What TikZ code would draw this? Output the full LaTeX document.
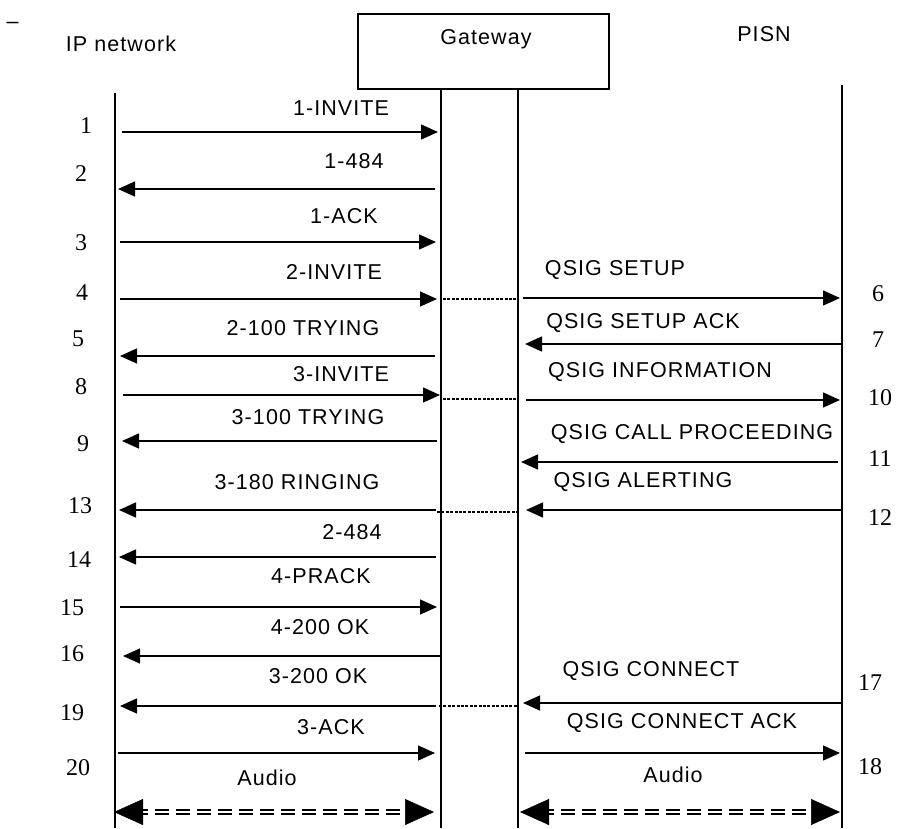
\documentclass[tikz,border=0pt]{standalone}
\usepackage{fontspec}
\setmainfont{Liberation Serif}
\newfontfamily\labfont[LetterSpace=5]{Liberation Sans}
\usetikzlibrary{arrows.meta}
\tikzset{
  lab/.style={font=\labfont\fontsize{21.5}{25}\selectfont, text height=15.5pt, text depth=0pt, inner sep=0pt},
  num/.style={font=\fontsize{24}{28}\selectfont, text height=16pt, text depth=0pt, inner sep=0pt},
  life/.style={line width=1.5pt},
  msg/.style={line width=1.4pt, -{Triangle[length=17pt,width=15pt]}},
  dotline/.style={line width=1.7pt, dash pattern=on 3pt off 1.4pt},
  audiotip/.style={white, line width=0.5pt, {Triangle[length=29pt,width=26pt,black]}-{Triangle[length=29pt,width=26pt,black]}},
  audiodash/.style={black, line width=2.3pt, double=white, double distance=2.2pt, dash pattern=on 14pt off 7pt, shorten <=20pt, shorten >=20pt}
}
\begin{document}
\begin{tikzpicture}[x=1pt,y=-1pt]
\useasboundingbox (0,0) rectangle (897,828);
% header
\node[lab, anchor=base] (dash) at (12.5,28) {–};
\node[lab] (ipn) at (121,44) {IP network};
\node[draw, line width=1.5pt, minimum width=251pt, minimum height=75pt, inner sep=0pt] (gw) at (483.5,51.5) {};
\node[lab] (gwl) at (486,37) {Gateway};
\node[lab] (pisn) at (764,34) {PISN};
% lifelines
\coordinate (ipT) at (115,93);  \coordinate (ipB) at (115,828);
\coordinate (gLT) at (441,89);  \coordinate (gLB) at (441,828);
\coordinate (gRT) at (518,89);  \coordinate (gRB) at (518,828);
\coordinate (psT) at (842,85);  \coordinate (psB) at (842,828);
\draw[life] (ipT) -- (ipB);
\draw[life] (gLT) -- (gLB);
\draw[life] (gRT) -- (gRB);
\draw[life] (psT) -- (psB);
% message end points
\coordinate (m1a) at (122,132); \coordinate (m1b) at (438,132);
\coordinate (m2a) at (435,189); \coordinate (m2b) at (118,189);
\coordinate (m3a) at (120,242); \coordinate (m3b) at (436,242);
\coordinate (m4a) at (120,299); \coordinate (m4b) at (437,299);
\coordinate (d4a) at (443,299); \coordinate (d4b) at (518,299);
\coordinate (m5a) at (435,356); \coordinate (m5b) at (120,356);
\coordinate (m6a) at (523,298); \coordinate (m6b) at (840,298);
\coordinate (m7a) at (842,344); \coordinate (m7b) at (525,344);
\coordinate (m8a) at (123,395); \coordinate (m8b) at (440,395);
\coordinate (d8a) at (443,399); \coordinate (d8b) at (518,399);
\coordinate (m10a) at (526,400); \coordinate (m10b) at (840,400);
\coordinate (m9a) at (437,441); \coordinate (m9b) at (122,441);
\coordinate (m11a) at (838,462); \coordinate (m11b) at (521,462);
\coordinate (m12a) at (842,510); \coordinate (m12b) at (526,510);
\coordinate (m13a) at (436,510); \coordinate (m13b) at (119,510);
\coordinate (d13a) at (437,512); \coordinate (d13b) at (518,512);
\coordinate (m14a) at (436,557); \coordinate (m14b) at (119,557);
\coordinate (m15a) at (120,607); \coordinate (m15b) at (437,607);
\coordinate (m16a) at (441,656); \coordinate (m16b) at (123,656);
\coordinate (m19a) at (436,706); \coordinate (m19b) at (120,706);
\coordinate (d19a) at (439,706); \coordinate (d19b) at (518,706);
\coordinate (m17a) at (842,703); \coordinate (m17b) at (523,703);
\coordinate (m20a) at (118,753); \coordinate (m20b) at (435,753);
\coordinate (m18a) at (525,753); \coordinate (m18b) at (840,753);
\coordinate (aLa) at (114,812); \coordinate (aLb) at (434,812);
\coordinate (aRa) at (520,812); \coordinate (aRb) at (840,812);
% messages
\foreach \m in {1,2,3,4,5,6,7,8,9,10,11,12,13,14,15,16,17,18,19,20}
  \draw[msg] (m\m a) -- (m\m b);
\foreach \d in {4,8,13,19}
  \draw[dotline] (d\d a) -- (d\d b);
% audio
\draw[audiodash] (aLa) -- (aLb);
\draw[audiotip] (aLa) -- (aLb);
\draw[audiodash] (aRa) -- (aRb);
\draw[audiotip] (aRa) -- (aRb);
% left labels
\node[lab] (l1) at (341,108) {1-INVITE};
\node[lab] (l2) at (354,161) {1-484};
\node[lab] (l3) at (344,216) {1-ACK};
\node[lab] (l4) at (334,272) {2-INVITE};
\node[lab] (l5) at (303,328) {2-100 TRYING};
\node[lab] (l8) at (341,374) {3-INVITE};
\node[lab] (l9) at (308,417) {3-100 TRYING};
\node[lab] (l13) at (297,482) {3-180 RINGING};
\node[lab] (l14) at (352,532) {2-484};
\node[lab] (l15) at (321,576) {4-PRACK};
\node[lab] (l16) at (320,627) {4-200 OK};
\node[lab] (l19) at (318,676) {3-200 OK};
\node[lab] (l20) at (331,727) {3-ACK};
\node[lab] (au1) at (267,778) {Audio};
% right labels
\node[lab] (l6) at (615,268) {QSIG SETUP};
\node[lab] (l7) at (643,321) {QSIG SETUP ACK};
\node[lab] (l10) at (660,370) {QSIG INFORMATION};
\node[lab] (l11) at (692,432) {QSIG CALL PROCEEDING};
\node[lab] (l12) at (643,480) {QSIG ALERTING};
\node[lab] (l17) at (651,669) {QSIG CONNECT};
\node[lab] (l18) at (682,721) {QSIG CONNECT ACK};
\node[lab] (au2) at (673,775) {Audio};
% step numbers
\node[num] (n1) at (86,125) {1};
\node[num] (n2) at (81,173) {2};
\node[num] (n3) at (81,242) {3};
\node[num] (n4) at (82,292) {4};
\node[num] (n5) at (78,338) {5};
\node[num] (n6) at (878,293) {6};
\node[num] (n7) at (878,339) {7};
\node[num] (n8) at (81,386) {8};
\node[num] (n9) at (83,443) {9};
\node[num] (n10) at (880,397) {10};
\node[num] (n11) at (880,458) {11};
\node[num] (n12) at (880,517) {12};
\node[num] (n13) at (80,505) {13};
\node[num] (n14) at (79,559) {14};
\node[num] (n15) at (72,607) {15};
\node[num] (n16) at (72,653) {16};
\node[num] (n17) at (870,682) {17};
\node[num] (n18) at (870,766) {18};
\node[num] (n19) at (72,712) {19};
\node[num] (n20) at (78,767) {20};
\end{tikzpicture}
\end{document}
